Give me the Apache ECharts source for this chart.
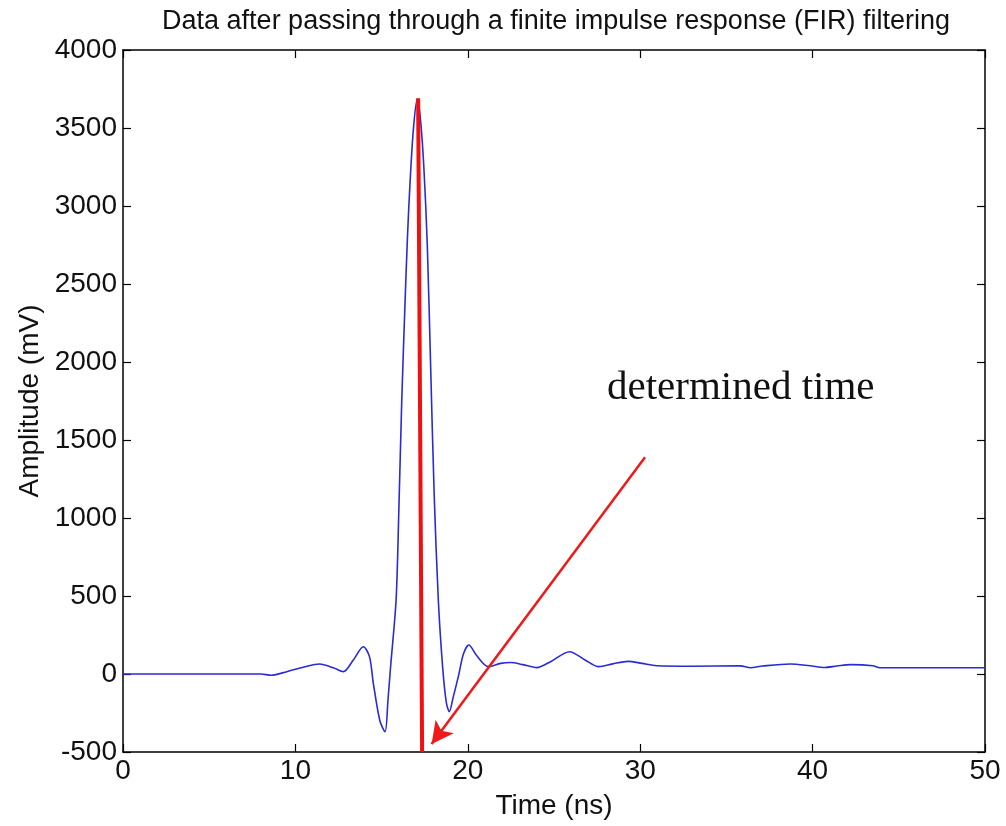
<!DOCTYPE html>
<html>
<head>
<meta charset="utf-8">
<script src="https://cdn.jsdelivr.net/npm/echarts@6/dist/echarts.min.js"></script>
<style>html,body{margin:0;padding:0;background:#fff}#c{width:1006px;height:826px}</style>
</head>
<body>
<div id="c"></div>
<script>
// ---- data ----
const timeNs = [0, 2, 4, 6, 8, 8.6, 9.5, 10.5, 11.4, 12.2, 12.78, 13.36, 13.94, 14.3, 14.52, 14.9, 15.2, 15.37, 15.52, 15.84, 16.0, 16.17, 16.35, 16.5, 16.65, 16.85, 17.07, 17.25, 17.45, 17.65, 17.85, 18.05, 18.29, 18.54, 18.75, 18.93, 19.15, 19.45, 19.75, 20.06, 20.5, 21.2, 21.9, 22.5, 23.2, 24.0, 24.8, 25.9, 26.8, 27.6, 28.4, 29.3, 30.1, 30.96, 33, 35.8, 36.4, 37.1, 38.7, 39.85, 40.7, 41.4, 42.2, 43.5, 43.9, 46, 50];
const amplitudeMv = [0, 0, 0, 0, 0, -8, 15, 45, 64, 40, 15, 90, 175, 110, -60, -300, -370, -167, 45, 474, 1050, 1756, 2350, 2800, 3150, 3500, 3685, 3560, 3250, 2750, 1950, 1150, 474, 45, -180, -241, -150, -17, 130, 186, 120, 47, 68, 74, 60, 41, 79, 143, 90, 47, 65, 81, 68, 53, 50, 52, 40, 51, 64, 53, 42, 51, 60, 53, 40, 40, 40];
const markerTime = [17.12, 17.35];
const markerAmp = [3690, -500];
const arrowTime = [30.28, 17.9];
const arrowAmp = [1389, -449];
const xTicks = [0, 10, 20, 30, 40, 50];
const yTicks = [-500, 0, 500, 1000, 1500, 2000, 2500, 3000, 3500, 4000];
const titleText = 'Data after passing through a finite impulse response (FIR) filtering';
const xName = 'Time (ns)';
const yName = 'Amplitude (mV)';
const noteText = 'determined time';

const chart = echarts.init(document.getElementById('c'), null, {renderer: 'canvas'});
const wave = timeNs.map((t, i) => [t, amplitudeMv[i]]);
const marker = markerTime.map((t, i) => [t, markerAmp[i]]);
const font = 'Liberation Sans, Arial, sans-serif';
const axisBase = {
  type: 'value',
  axisLine: {show: true, onZero: false, lineStyle: {color: '#000', width: 1.5}},
  axisTick: {show: true, inside: true, length: 8, lineStyle: {color: '#000', width: 1.2}},
  splitLine: {show: false}
};
chart.setOption({
  animation: false,
  backgroundColor: '#fff',
  title: {
    text: titleText, left: 551, top: 3, textAlign: 'center',
    textStyle: {fontFamily: font, fontSize: 27, fontWeight: 'normal', color: '#111'}
  },
  grid: {left: 123, right: 21, top: 50, bottom: 74},
  xAxis: [
    Object.assign({}, axisBase, {
      position: 'bottom', min: xTicks[0], max: xTicks[xTicks.length - 1], interval: 10,
      name: xName, nameLocation: 'middle', nameGap: 40,
      nameTextStyle: {fontFamily: font, fontSize: 28, color: '#111'},
      axisLabel: {fontFamily: font, fontSize: 28, color: '#111', margin: 5, formatter: v => String(v)}
    }),
    Object.assign({}, axisBase, {
      position: 'top', min: xTicks[0], max: xTicks[xTicks.length - 1], interval: 10,
      axisLabel: {show: false}
    })
  ],
  yAxis: [
    Object.assign({}, axisBase, {
      position: 'left', min: yTicks[0], max: yTicks[yTicks.length - 1], interval: 500,
      name: yName, nameLocation: 'middle', nameGap: 76,
      nameTextStyle: {fontFamily: font, fontSize: 28, color: '#111'},
      axisLabel: {fontFamily: font, fontSize: 28, color: '#111', margin: 6, formatter: v => String(v)}
    }),
    Object.assign({}, axisBase, {
      position: 'right', min: yTicks[0], max: yTicks[yTicks.length - 1], interval: 500,
      axisLabel: {show: false}
    })
  ],
  series: [
    {
      type: 'line', data: wave, showSymbol: false, smooth: 0.3,
      lineStyle: {color: '#2a2ad6', width: 1.6}, z: 2
    },
    {
      type: 'line', data: marker, showSymbol: false,
      lineStyle: {color: '#f01010', width: 4}, z: 3,
      markLine: {
        silent: true, animation: false,
        symbol: ['none', 'arrow'], symbolSize: [17, 22],
        label: {show: false},
        lineStyle: {color: '#f01818', width: 2.5, type: 'solid'},
        data: [[
          {coord: [arrowTime[0], arrowAmp[0]]},
          {coord: [arrowTime[1], arrowAmp[1]]}
        ]]
      }
    }
  ],
  graphic: [{
    type: 'text', left: 607, top: 368,
    style: {text: noteText, font: '41px "Liberation Serif", "Times New Roman", serif', fill: '#111'}
  }]
});
</script>
</body>
</html>
